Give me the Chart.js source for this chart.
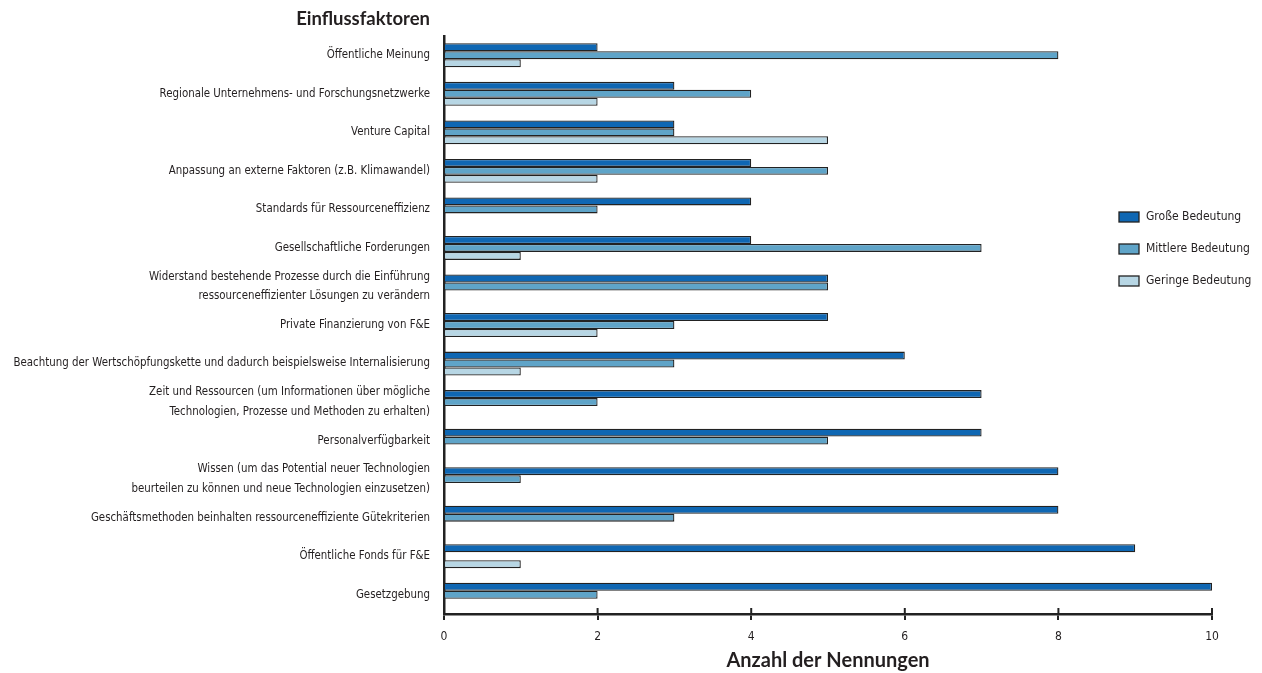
<!DOCTYPE html>
<html lang="de">
<head>
<meta charset="utf-8">
<title>Einflussfaktoren</title>
<script src="https://cdn.jsdelivr.net/npm/chart.js@4.4.1/dist/chart.umd.min.js"></script>
<style>
  html, body { margin: 0; padding: 0; background: #fff; }
  #wrap { position: relative; width: 1262px; height: 673px; }
</style>
</head>
<body>
<div id="wrap"><canvas id="chart" width="1262" height="673"></canvas></div>
<script>
// Kategorien (von oben nach unten)
const categories = [
  'Öffentliche Meinung',
  'Regionale Unternehmens- und Forschungsnetzwerke',
  'Venture Capital',
  'Anpassung an externe Faktoren (z.B. Klimawandel)',
  'Standards für Ressourceneffizienz',
  'Gesellschaftliche Forderungen',
  ['Widerstand bestehende Prozesse durch die Einführung', 'ressourceneffizienter Lösungen zu verändern'],
  'Private Finanzierung von F&E',
  'Beachtung der Wertschöpfungskette und dadurch beispielsweise Internalisierung',
  ['Zeit und Ressourcen (um Informationen über mögliche', 'Technologien, Prozesse und Methoden zu erhalten)'],
  'Personalverfügbarkeit',
  ['Wissen (um das Potential neuer Technologien', 'beurteilen zu können und neue Technologien einzusetzen)'],
  'Geschäftsmethoden beinhalten ressourceneffiziente Gütekriterien',
  'Öffentliche Fonds für F&E',
  'Gesetzgebung',
];

const seriesNames = ['Große Bedeutung', 'Mittlere Bedeutung', 'Geringe Bedeutung'];
const grosse   = [2, 3, 3, 4, 4, 4, 5, 5, 6, 7, 7, 8, 8, 9, 10];
const mittlere = [8, 4, 3, 5, 2, 7, 5, 3, 3, 2, 5, 1, 3, 0, 2];
const geringe  = [1, 2, 5, 2, 0, 1, 0, 2, 1, 0, 0, 0, 0, 1, 0];
const xTicks   = [0, 2, 4, 6, 8, 10];

const COLORS = {
  gross:  '#0f67b3',
  mittel: '#5fa4c8',
  gering: '#b7d6e4',
  edge:   '#222222',
  text:   '#231f20',
};

const FONT = "'Liberation Sans Narrow', 'DejaVu Sans Condensed', 'Roboto', sans-serif";
const BOLD = "'Lato', 'Open Sans', sans-serif";

// Titel der Kategorieachse, oben links
const axisTitle = {
  id: 'axisTitle',
  afterDraw(chart) {
    const { ctx, scales: { y } } = chart;
    ctx.save();
    ctx.font = `bold 18.5px ${BOLD}`;
    ctx.fillStyle = COLORS.text;
    ctx.textAlign = 'right';
    ctx.textBaseline = 'middle';
    ctx.fillText('Einflussfaktoren', y.right - 14, 19);
    ctx.restore();
  }
};

// Tickmarken, die die x-Achse kreuzen (nach innen)
const innerTicks = {
  id: 'innerTicks',
  afterDraw(chart) {
    const { ctx, scales: { x } } = chart;
    ctx.save();
    ctx.strokeStyle = COLORS.edge;
    ctx.lineWidth = 2;
    x.ticks.forEach(t => {
      const px = x.getPixelForValue(t.value);
      ctx.beginPath();
      ctx.moveTo(px, x.top - 6);
      ctx.lineTo(px, x.top);
      ctx.stroke();
    });
    ctx.restore();
  }
};

// Legende rechts, im Diagrammbereich
const sideLegend = {
  id: 'sideLegend',
  afterDraw(chart) {
    const { ctx } = chart;
    ctx.save();
    ctx.font = `12px ${FONT}`;
    ctx.textBaseline = 'middle';
    chart.data.datasets.forEach((ds, i) => {
      const cy = 217 + i * 32;
      ctx.fillStyle = ds.backgroundColor;
      ctx.fillRect(1119, cy - 5, 20, 10);
      ctx.strokeStyle = COLORS.edge;
      ctx.lineWidth = 1.3;
      ctx.strokeRect(1119, cy - 5, 20, 10);
      ctx.fillStyle = COLORS.text;
      ctx.fillText(ds.label, 1146, cy);
    });
    ctx.restore();
  }
};

const bar = (label, data, color) => ({
  label, data,
  backgroundColor: color,
  borderColor: COLORS.edge,
  borderWidth: 1.3,
  borderSkipped: 'start',
  barPercentage: 1,
  categoryPercentage: 0.62,
});

new Chart(document.getElementById('chart'), {
  type: 'bar',
  data: {
    labels: categories,
    datasets: [
      bar(seriesNames[0], grosse,   COLORS.gross),
      bar(seriesNames[1], mittlere, COLORS.mittel),
      bar(seriesNames[2], geringe,  COLORS.gering),
    ],
  },
  options: {
    indexAxis: 'y',
    responsive: false,
    animation: false,
    layout: { padding: { top: 36, right: 50, bottom: 0, left: 0 } },
    plugins: {
      legend: { display: false },
      tooltip: { enabled: false },
    },
    scales: {
      x: {
        min: 0, max: 10,
        afterBuildTicks: s => { s.ticks = xTicks.map(v => ({ value: v })); },
        afterFit: s => { s.height = 59; },
        grid: { drawOnChartArea: false, drawTicks: true, tickLength: 6, color: COLORS.edge, lineWidth: 2 },
        border: { display: true, color: COLORS.edge, width: 2.5 },
        ticks: { color: COLORS.text, font: { family: FONT, size: 12 }, padding: 10 },
        title: {
          display: true,
          text: 'Anzahl der Nennungen',
          color: COLORS.text,
          font: { family: BOLD, size: 20, weight: 'bold' },
          padding: { top: 0, bottom: 0 },
        },
      },
      y: {
        afterFit: s => { s.width = 444; },
        grid: { drawOnChartArea: false, drawTicks: false },
        border: { display: true, color: COLORS.edge, width: 2.5 },
        ticks: { color: COLORS.text, font: { family: FONT, size: 11.4, lineHeight: 1.7 }, padding: 14, autoSkip: false },
      },
    },
  },
  plugins: [axisTitle, innerTicks, sideLegend],
});
</script>
</body>
</html>
